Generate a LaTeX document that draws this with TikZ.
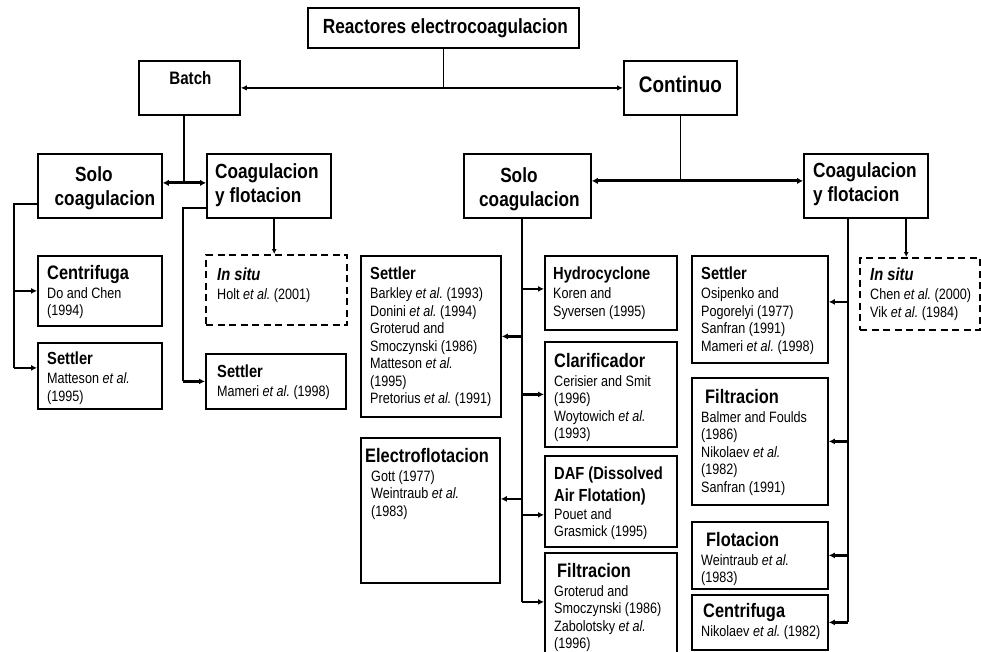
\documentclass[tikz,border=0pt]{standalone}
\usepackage{fontspec}
\setmainfont[FakeStretch=0.84]{Liberation Sans}
\usetikzlibrary{arrows.meta}
\newcommand\ttlA{\fontsize{17.5}{17.5}\selectfont\bfseries}
\newcommand\ttlB{\fontsize{19.5}{19.5}\selectfont\bfseries}
\newcommand\etl{\textit{et al.\/}}
\frenchspacing
\begin{document}
\begin{tikzpicture}[x=1pt,y=-1pt,
  box/.style={draw, line width=1.8pt, inner sep=0pt, anchor=north west},
  dbox/.style={draw, line width=2.4pt, dash pattern=on 7pt off 4.5pt, inner sep=0pt, anchor=north west},
  txt/.style={anchor=north west, inner sep=0pt, align=left, font=\fontsize{15}{17.5}\selectfont},
  head/.style={inner sep=0pt},
  ln/.style={line width=1.7pt},
  sarr/.style={line width=2.4pt, -{Latex[length=6pt,width=6pt]}},
  tarr/.style={line width=1.7pt, {Latex[length=6pt,width=5.5pt]}-{Latex[length=6pt,width=5.5pt]}},
  darr/.style={line width=3pt, {Latex[length=6pt,width=6.5pt]}-{Latex[length=6pt,width=6.5pt]}},
]
\useasboundingbox (0,0) rectangle (981,652);
\fill[white] (0,0) rectangle (981,652);
\clip (0,0) rectangle (981,652);

% ---------- main boxes ----------
\node[box, minimum width=271pt, minimum height=40pt] (top) at (307,7) {};
\node[box, minimum width=101pt, minimum height=54pt] (batch) at (138,60) {};
\node[box, minimum width=113pt, minimum height=54pt] (cont) at (623,60) {};
\node[box, minimum width=124pt, minimum height=64pt] (soloL) at (37,153) {};
\node[box, minimum width=124pt, minimum height=64pt] (coagL) at (206,153) {};
\node[box, minimum width=127pt, minimum height=64pt] (soloM) at (463,153) {};
\node[box, minimum width=124pt, minimum height=64pt] (coagR) at (803,153) {};

\node[head, anchor=base, font=\fontsize{20.5}{24}\selectfont\bfseries] (topt) at ([xshift=2pt,yshift=-6pt]top.center) {Reactores electrocoagulacion};
\node[head, anchor=base, font=\fontsize{18}{20}\selectfont\bfseries] (batcht) at ([xshift=1pt,yshift=-25pt]batch.north) {Batch};
\node[head, anchor=base, font=\fontsize{22.5}{24}\selectfont\bfseries] (contt) at ([yshift=-33pt]cont.north) {Continuo};
\node[head, anchor=north, align=center, font=\fontsize{20.5}{24}\selectfont\bfseries] (soloLt) at ([xshift=5pt,yshift=-13pt]soloL.north) {Solo\hspace*{22pt}\\coagulacion};
\node[head, anchor=north, align=center, font=\fontsize{20.5}{24}\selectfont\bfseries] (soloMt) at ([xshift=2pt,yshift=-14pt]soloM.north) {Solo\hspace*{21pt}\\coagulacion};
\node[head, anchor=north west, align=left, font=\fontsize{20.5}{24}\selectfont\bfseries] (coagLt) at ([xshift=9pt,yshift=-10pt]coagL.north west) {Coagulacion\\y flotacion};
\node[head, anchor=north west, align=left, font=\fontsize{20.5}{24}\selectfont\bfseries] (coagRt) at ([xshift=10pt,yshift=-9pt]coagR.north west) {Coagulacion\\y flotacion};

% ---------- Batch branch ----------
\node[box, minimum width=124pt, minimum height=70pt] (centL) at (37,255) {};
\node[box, minimum width=124pt, minimum height=66pt] (settL) at (37,342) {};
\node[dbox, minimum width=141pt, minimum height=70pt] (insL) at (205,254) {};
\node[box, minimum width=140pt, minimum height=55pt] (settL2) at (205,353) {};

\node[txt] (centLt) at ([xshift=10pt,yshift=-10pt]centL.north west) {{\ttlB Centrifuga}\\[1.5pt]Do and Chen\\(1994)};
\node[txt] (settLt) at ([xshift=10pt,yshift=-10pt]settL.north west) {{\ttlA Settler}\\[1.5pt]Matteson \etl\\(1995)};
\node[txt] (insLt) at ([xshift=12pt,yshift=-14pt]insL.north west) {{\ttlA\itshape In situ}\\[1.5pt]Holt \etl{} (2001)};
\node[txt] (settL2t) at ([xshift=12pt,yshift=-12pt]settL2.north west) {{\ttlA Settler}\\[1.5pt]Mameri \etl{} (1998)};

% ---------- Continuo / solo coagulacion ----------
\node[box, minimum width=140pt, minimum height=161pt] (settM) at (360,255) {};
\node[box, minimum width=139pt, minimum height=145pt] (electro) at (360,437) {};
\node[box, minimum width=132pt, minimum height=74pt] (hydro) at (544,255) {};
\node[box, minimum width=132pt, minimum height=105pt] (clar) at (544,341) {};
\node[box, minimum width=132pt, minimum height=91pt] (daf) at (544,455) {};
\node[box, minimum width=132pt, minimum height=110pt] (filtM) at (544,552) {};

\node[txt] (settMt) at ([xshift=10pt,yshift=-12pt]settM.north west) {{\ttlA Settler}\\[1.5pt]Barkley \etl{} (1993)\\Donini \etl{} (1994)\\Groterud and\\Smoczynski (1986)\\Matteson \etl\\(1995)\\Pretorius \etl{} (1991)};
\node[txt] (electrot) at ([xshift=5pt,yshift=-11pt]electro.north west) {{\ttlB Electroflotacion}\\[1.5pt]\hspace*{6pt}Gott (1977)\\\hspace*{6pt}Weintraub \etl\\\hspace*{6pt}(1983)};
\node[txt] (hydrot) at ([xshift=9pt,yshift=-12pt]hydro.north west) {{\ttlA Hydrocyclone}\\[1.5pt]Koren and\\Syversen (1995)};
\node[txt] (clart) at ([xshift=10pt,yshift=-12pt]clar.north west) {{\ttlB Clarificador}\\[1.5pt]Cerisier and Smit\\(1996)\\Woytowich \etl\\(1993)};
\node[txt] (daft) at ([xshift=10pt,yshift=-12pt]daf.north west) {{\ttlA DAF (Dissolved}\\[4pt]{\ttlA Air Flotation)}\\[0.5pt]Pouet and\\Grasmick (1995)};
\node[txt] (filtMt) at ([xshift=10pt,yshift=-11pt]filtM.north west) {{\ttlB\hspace*{3pt}Filtracion}\\[1.5pt]Groterud and\\Smoczynski (1986)\\Zabolotsky \etl\\(1996)};

% ---------- Continuo / coagulacion y flotacion ----------
\node[box, minimum width=136pt, minimum height=107pt] (settR) at (691,255) {};
\node[box, minimum width=136pt, minimum height=127pt] (filtR) at (691,377) {};
\node[box, minimum width=136pt, minimum height=67pt] (flotR) at (691,521) {};
\node[box, minimum width=136pt, minimum height=55pt] (centR) at (691,594) {};
\node[dbox, minimum width=120pt, minimum height=72pt] (insR) at (859,257) {};

\node[txt] (settRt) at ([xshift=10pt,yshift=-12pt]settR.north west) {{\ttlA Settler}\\[1.5pt]Osipenko and\\Pogorelyi (1977)\\Sanfran (1991)\\Mameri \etl{} (1998)};
\node[txt] (filtRt) at ([xshift=10pt,yshift=-12pt]filtR.north west) {{\ttlB\hspace*{4pt}Filtracion}\\[1.5pt]Balmer and Foulds\\(1986)\\Nikolaev \etl\\(1982)\\Sanfran (1991)};
\node[txt] (flotRt) at ([xshift=10pt,yshift=-11pt]flotR.north west) {{\ttlB\hspace*{5pt}Flotacion}\\[1.5pt]Weintraub \etl\\(1983)};
\node[txt] (centRt) at ([xshift=10pt,yshift=-9pt]centR.north west) {{\ttlB\hspace*{2pt}Centrifuga}\\[1.5pt]Nikolaev \etl{} (1982)};
\node[txt] (insRt) at ([xshift=11pt,yshift=-11pt]insR.north west) {{\ttlA\itshape In situ}\\[1.5pt]Chen \etl{} (2000)\\Vik \etl{} (1984)};

% ---------- junction coordinates ----------
\coordinate (jB) at (184,182);
\coordinate (xL) at (14,203);
\coordinate (xL2) at (183,207);
\coordinate (xM) at (522,217);
\coordinate (xR) at (848,217);
\coordinate (pSettL) at ([yshift=8pt]settL.west);
\coordinate (pInsL) at ([xshift=-2.5pt]insL.north);
\coordinate (pHydro) at ([yshift=4pt]hydro.west);
\coordinate (pElec) at ([yshift=11.5pt]electro.east);
\coordinate (pDaf) at ([yshift=-13.5pt]daf.west);
\coordinate (pFiltM) at ([yshift=6pt]filtM.west);
\coordinate (pSettR) at ([yshift=7.5pt]settR.east);
\coordinate (pInsR) at ([xshift=-14pt]insR.north);

% ---------- connectors ----------
\draw[ln] (top.south) -- (top.south |- batch.east);
\draw[tarr] (batch.east) -- (cont.west);

\draw[ln] (jB |- batch.south) -- (jB);
\draw[darr] ([yshift=3pt]soloL.east) -- ([yshift=3pt]coagL.west);
\draw[ln] (cont.south) -- ([yshift=5pt]cont.south |- soloM.east);
\draw[darr] ([yshift=5pt]soloM.east) -- ([yshift=5pt]coagR.west);

% batch / solo coagulacion
\draw[ln] ([yshift=-18pt]soloL.west) -| (pSettL -| xL);
\draw[sarr] (xL |- centL.west) -- (centL.west);
\draw[sarr] (pSettL -| xL) -- (pSettL);
% batch / coagulacion y flotacion
\draw[ln] ([yshift=-22pt]coagL.west) -| (xL2 |- settL2.west);
\draw[sarr] (xL2 |- settL2.west) -- (settL2.west);
\draw[ln, -{Latex[length=5pt,width=5pt]}] (coagL.south -| pInsL) -- (pInsL);

% continuo / solo coagulacion
\draw[ln] (xM |- soloM.south) -- (xM |- pFiltM);
\draw[sarr] (xM |- settM.east) -- (settM.east);
\draw[sarr] (xM |- pHydro) -- (pHydro);
\draw[sarr] (xM |- clar.west) -- (clar.west);
\draw[sarr] (xM |- pElec) -- (pElec);
\draw[sarr] (xM |- pDaf) -- (pDaf);
\draw[sarr] (xM |- pFiltM) -- (pFiltM);

% continuo / coagulacion y flotacion
\draw[ln] (xR |- coagR.south) -- (xR |- centR.east);
\draw[sarr] (xR |- pSettR) -- (pSettR);
\draw[sarr] (xR |- filtR.east) -- (filtR.east);
\draw[sarr] (xR |- flotR.east) -- (flotR.east);
\draw[sarr] (xR |- centR.east) -- (centR.east);
\draw[ln, -{Latex[length=5pt,width=5pt]}] (coagR.south -| pInsR) -- (pInsR);
\end{tikzpicture}
\end{document}
